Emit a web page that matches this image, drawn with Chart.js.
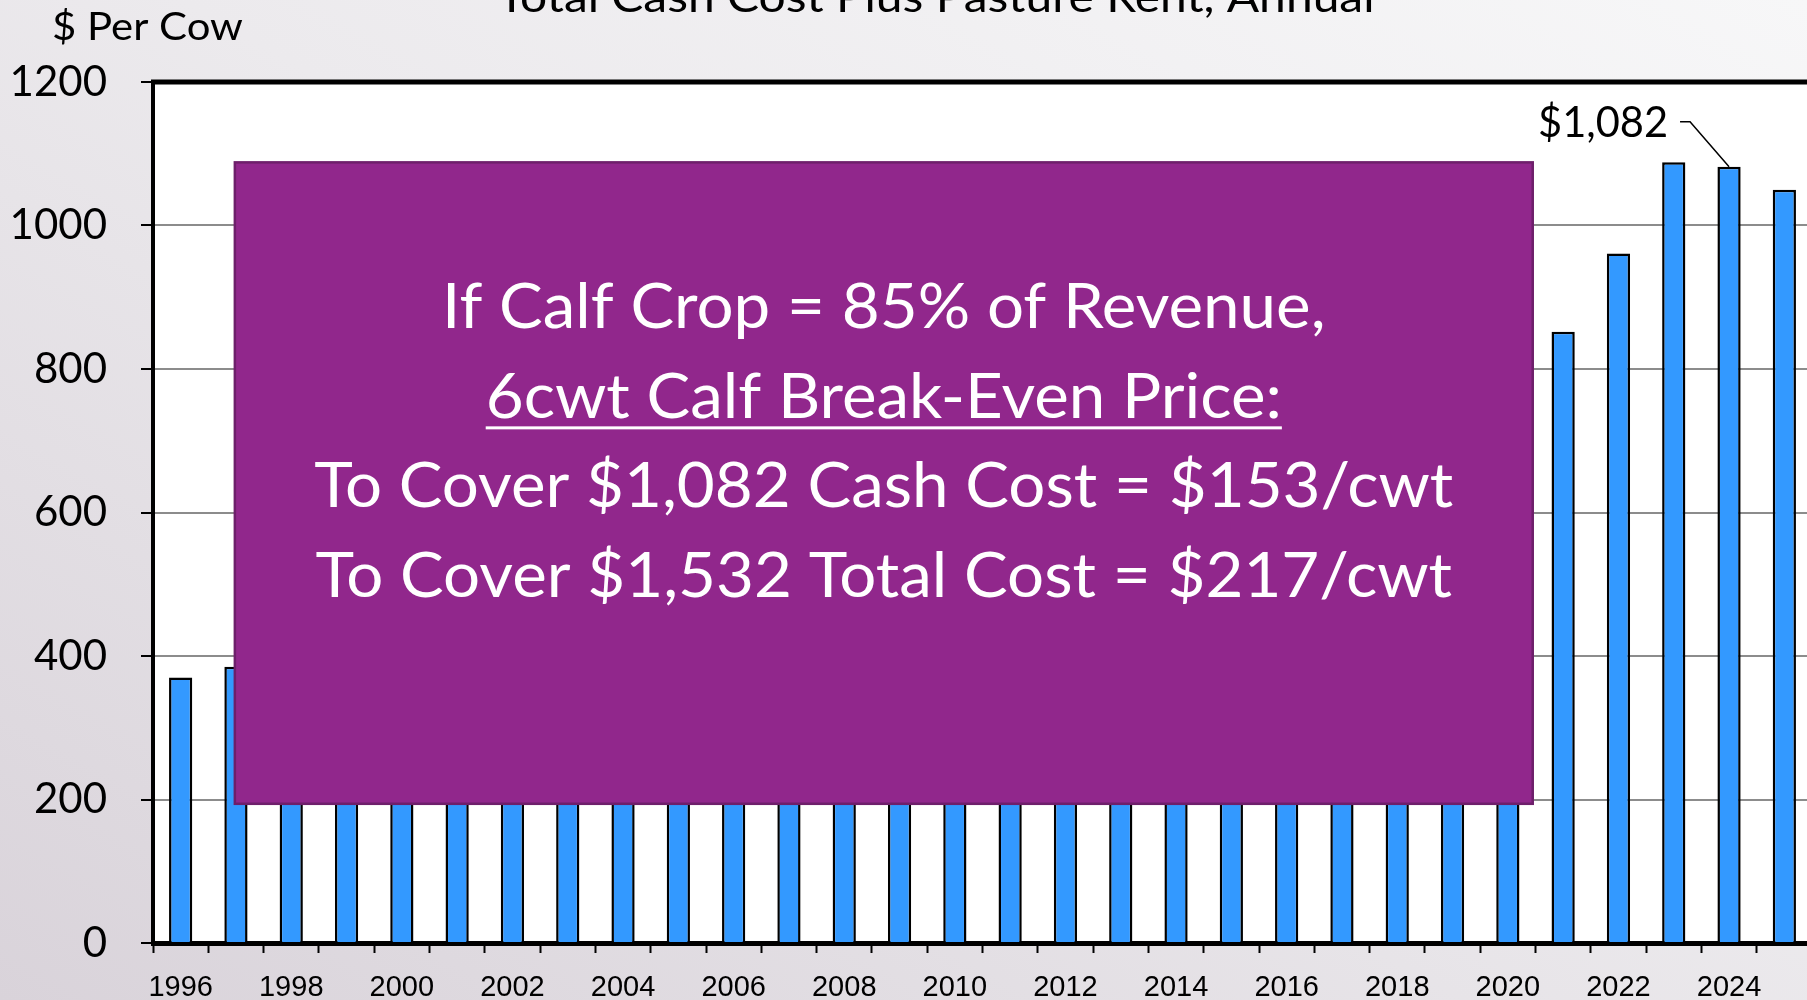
<!DOCTYPE html>
<html>
<head>
<meta charset="utf-8">
<script src="https://cdn.jsdelivr.net/npm/chart.js@4.4.1/dist/chart.umd.min.js"></script>
<style>
  html, body { margin: 0; padding: 0; width: 1807px; height: 1000px; overflow: hidden; }
  body { background: linear-gradient(to bottom left, #f7f7f8 0%, #eceaed 45%, #d9d3da 100%); }
  canvas { display: block; }
</style>
</head>
<body>
<canvas id="graph" width="1830" height="1000" style="width:1830px;height:1000px"></canvas>
<script>
// annual cash cost plus pasture rent, $ per cow
const years = ["1996", "1997", "1998", "1999", "2000", "2001", "2002", "2003", "2004", "2005",
  "2006", "2007", "2008", "2009", "2010", "2011", "2012", "2013", "2014", "2015",
  "2016", "2017", "2018", "2019", "2020", "2021", "2022", "2023", "2024", "2025"];
const costPerCow = [370, 385, 395, 405, 420, 440, 455, 470, 490, 515,
  545, 575, 625, 640, 650, 690, 745, 775, 800, 810,
  790, 775, 780, 790, 795, 852, 961, 1088, 1082, 1050];
const yTicks = { min: 0, max: 1200, step: 200 };

const chartTitle = "Total Cash Cost Plus Pasture Rent, Annual";
const axisTitle = "$ Per Cow";
const calloutYear = "2024";
const calloutText = "$1,082";
const boxLines = [
  "If Calf Crop = 85% of Revenue,",
  "6cwt Calf Break-Even Price:",
  "To Cover $1,082 Cash Cost = $153/cwt",
  "To Cover $1,532 Total Cost = $217/cwt"
];

const FONT = 'Lato, "Open Sans", sans-serif';

function textWidth(ctx, text, size) {
  ctx.font = size + "px " + FONT;
  return ctx.measureText(text).width;
}

function drawText(ctx, text, x, y, size, sx, align, color) {
  ctx.save();
  ctx.font = size + "px " + FONT;
  ctx.fillStyle = color;
  ctx.textAlign = align;
  ctx.textBaseline = "alphabetic";
  ctx.translate(x, y);
  ctx.scale(sx, 1);
  ctx.fillText(text, 0, 0);
  ctx.restore();
}

const overlay = {
  id: "overlay",
  beforeDraw(chart) {
    const { ctx, chartArea: a } = chart;
    ctx.save();
    ctx.fillStyle = "#ffffff";
    ctx.fillRect(a.left, a.top, a.right - a.left, a.bottom - a.top);
    ctx.restore();
  },
  afterDatasetsDraw(chart) {
    const { ctx, chartArea: a } = chart;
    const x = chart.scales.x, y = chart.scales.y;
    const step = x.getPixelForValue(1) - x.getPixelForValue(0);
    const idx = v => x.getPixelForValue(0) + v * step;

    // top frame line
    ctx.save();
    ctx.strokeStyle = "#000";
    ctx.lineWidth = 5;
    ctx.beginPath();
    ctx.moveTo(a.left - 2, a.top);
    ctx.lineTo(a.right + 2, a.top);
    ctx.stroke();
    ctx.restore();

    // titles
    drawText(ctx, chartTitle, 936, 12, 42, 877 / textWidth(ctx, chartTitle, 42), "center", "#000");
    drawText(ctx, axisTitle, 52, 40, 38, 191 / textWidth(ctx, axisTitle, 38), "left", "#000");

    // callout for 2024
    const ci = years.indexOf(calloutYear);
    const bx = x.getPixelForValue(ci), by = y.getPixelForValue(costPerCow[ci]);
    drawText(ctx, calloutText, bx - 61, by - 30, 42, 130 / textWidth(ctx, calloutText, 42), "right", "#000");
    ctx.save();
    ctx.strokeStyle = "#000";
    ctx.lineWidth = 1.5;
    ctx.beginPath();
    ctx.moveTo(bx - 49, by - 45);
    ctx.lineTo(bx - 39, by - 45);
    ctx.lineTo(bx, by);
    ctx.stroke();
    ctx.restore();

    // purple text box
    const left = idx(0.98), right = idx(24.45);
    const top = y.getPixelForValue(1088), bottom = y.getPixelForValue(194);
    ctx.save();
    ctx.fillStyle = "#91278c";
    ctx.fillRect(left, top, right - left, bottom - top);
    ctx.strokeStyle = "#6e1f6b";
    ctx.lineWidth = 2.5;
    ctx.strokeRect(left, top, right - left, bottom - top);
    ctx.restore();

    const cx = (left + right) / 2;
    const size = 62;
    const sx = 1139 / textWidth(ctx, boxLines[2], size);
    boxLines.forEach((line, i) => {
      drawText(ctx, line, cx, top + 165.5 + i * 89.7, size, sx, "center", "#fff");
    });
    const uw = textWidth(ctx, boxLines[1], size) * sx;
    ctx.save();
    ctx.fillStyle = "#fff";
    ctx.fillRect(cx - uw / 2, top + 265.5 - 1.5, uw, 3);
    ctx.restore();
  }
};

const graph = document.getElementById("graph").getContext("2d");
new Chart(graph, {
  type: "bar",
  data: {
    labels: years,
    datasets: [{
      label: axisTitle,
      data: costPerCow,
      backgroundColor: "#3399ff",
      borderColor: "#000",
      borderWidth: 2.5,
      barPercentage: 0.42,
      categoryPercentage: 1
    }]
  },
  options: {
    responsive: false,
    animation: false,
    devicePixelRatio: 1,
    layout: { padding: { top: 82, right: 18, left: 0, bottom: 0 } },
    plugins: { legend: { display: false }, tooltip: { enabled: false } },
    scales: {
      x: {
        offset: true,
        grid: { offset: true, drawOnChartArea: false, drawTicks: true, tickLength: 10, tickColor: "#000", tickWidth: 2 },
        border: { color: "#000", width: 5 },
        ticks: {
          autoSkip: false,
          maxRotation: 0,
          padding: 18,
          color: "#000",
          font: { family: '"Liberation Sans", Arial, sans-serif', size: 29 },
          callback: (v, i) => (i % 2 === 0 ? years[i] : "")
        },
        afterFit: s => { s.height = 57; }
      },
      y: {
        min: yTicks.min,
        max: yTicks.max,
        ticks: { stepSize: yTicks.step, padding: 34, color: "#000", font: { family: FONT, size: 42 }, callback: v => String(v) },
        grid: { color: "#8c8c8c", lineWidth: 2, tickColor: "#000", tickLength: 12, tickWidth: 2 },
        border: { color: "#000", width: 4 },
        afterFit: s => { s.width = 153; s.paddingBottom = 10; s.paddingTop = 10; }
      }
    }
  },
  plugins: [overlay]
});
</script>
</body>
</html>
